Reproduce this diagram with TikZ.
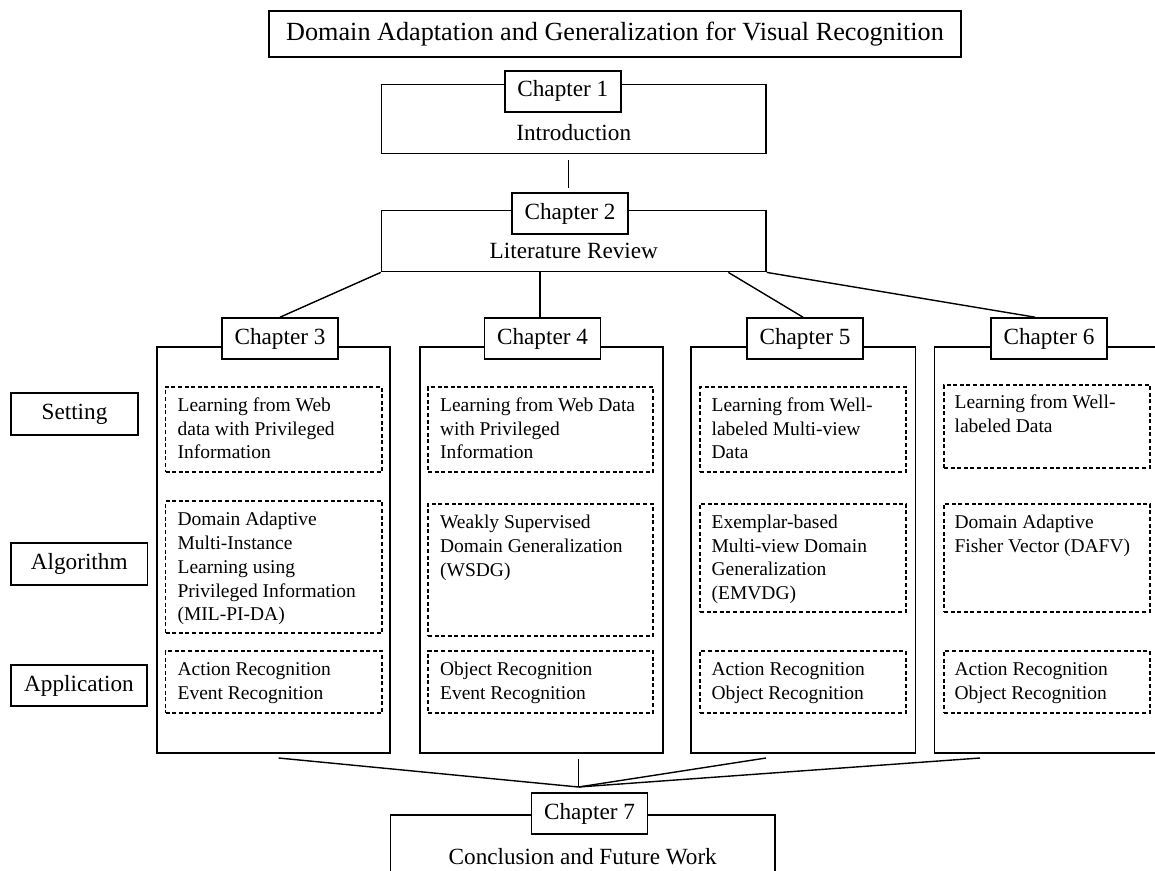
\documentclass[tikz,border=0pt]{standalone}
\usepackage{fontspec}
\setmainfont{Liberation Serif}
\usetikzlibrary{calc}
\newcommand\mytitle{\fontsize{26.2}{30}\selectfont}
\newcommand\mybig{\fontsize{23.2}{27}\selectfont}
\newcommand\mysmall{\fontsize{19.5}{23.7}\selectfont}
\begin{document}
\begin{tikzpicture}[x=1pt,y=-1pt,
  sbox/.style={draw, line width=1.4pt, fill=white, inner sep=0pt},
  lbox/.style={draw, line width=1.6pt, fill=white, inner sep=0pt, minimum width=116pt, minimum height=41pt, font=\mybig},
  dbox/.style={draw, line width=1.2pt, dash pattern=on 4pt off 2.6pt, inner sep=0pt},
  txt/.style={anchor=base west, inner sep=0pt},
  conn/.style={line width=1.4pt}
]
\useasboundingbox (0,0) rectangle (1155,870);
\clip (0,0) rectangle (1155,870);

% title
\node[sbox, minimum width=692pt, minimum height=46pt, font=\mytitle] (title) at (615,34) {Domain Adaptation and Generalization for Visual Recognition};

% chapter 1
\node[sbox, minimum width=384.5pt, minimum height=69pt] (ch1box) at (573.75,118.8) {};
\node[lbox] (ch1) at (562.8,91.2) {Chapter 1};
\node[inner sep=0pt, font=\mybig] (intro) at (573.75,133) {Introduction};

% chapter 2
\node[sbox, minimum width=384.5pt, minimum height=61pt] (ch2box) at (573.75,241.2) {};
\node[lbox] (ch2) at (570,213.5) {Chapter 2};
\node[inner sep=0pt, font=\mybig] (lit) at (573.8,250.7) {Literature Review};

\coordinate (c1a) at (568.6,160);
\coordinate (c1b) at (568.6,187.7);
\draw[conn] (c1a) -- (c1b);

% columns
\node[sbox, minimum width=233pt, minimum height=406pt] (col3) at (273.5,550) {};
\node[sbox, minimum width=243pt, minimum height=406pt] (col4) at (541.5,550) {};
\node[sbox, minimum width=224.5pt, minimum height=406pt] (col5) at (803.25,550) {};
\node[sbox, minimum width=240.5pt, minimum height=406pt] (col6) at (1054.75,550) {};

\node[lbox] (ch3) at (280,338.5) {Chapter 3};
\node[lbox] (ch4) at (542.5,338.5) {Chapter 4};
\node[lbox] (ch5) at (805,338.5) {Chapter 5};
\node[lbox] (ch6) at (1049,338.5) {Chapter 6};

% connectors from chapter 2
\draw[conn] (ch2box.south west) -- (ch3.north);
\draw[conn] ($(ch2box.south west)+(159.2,0)$) -- ($(ch2box.south west)+(159.2,46.3)$);
\draw[conn] ($(ch2box.south west)+(347.5,0)$) -- ([xshift=-2pt]ch5.north);
\draw[conn] (ch2box.south east) -- ([xshift=-14pt]ch6.north);

% row labels
\node[sbox, minimum width=127pt, minimum height=42pt, font=\mybig] (setting) at (74.5,414) {Setting};
\node[sbox, minimum width=136.5pt, minimum height=42pt, font=\mybig] (algorithm) at (79.25,564) {Algorithm};
\node[sbox, minimum width=136pt, minimum height=41pt, font=\mybig] (application) at (79,685.5) {Application};

% dashed boxes: chapter 3
\node[dbox, minimum width=216.5pt, minimum height=85pt] (d3s) at (273.75,429.5) {};
\node[dbox, minimum width=216.5pt, minimum height=132pt] (d3a) at (273.75,567) {};
\node[dbox, minimum width=216.5pt, minimum height=62pt] (d3p) at (273.75,682) {};
% chapter 4
\node[dbox, minimum width=225pt, minimum height=85pt] (d4s) at (540.5,429.5) {};
\node[dbox, minimum width=225pt, minimum height=132pt] (d4a) at (540.5,570) {};
\node[dbox, minimum width=225pt, minimum height=62pt] (d4p) at (540.5,682) {};
% chapter 5
\node[dbox, minimum width=206pt, minimum height=85pt] (d5s) at (803,429.5) {};
\node[dbox, minimum width=206pt, minimum height=108pt] (d5a) at (803,558) {};
\node[dbox, minimum width=206pt, minimum height=62pt] (d5p) at (803,682) {};
% chapter 6
\node[dbox, minimum width=206pt, minimum height=83pt] (d6s) at (1047,426.5) {};
\node[dbox, minimum width=206pt, minimum height=108pt] (d6a) at (1047,558) {};
\node[dbox, minimum width=206pt, minimum height=62pt] (d6p) at (1047,682) {};

% texts
\node[txt] (t3s) at ($(d3s.north west)+(12.5,25)$) {\parbox[t]{215pt}{\mysmall\raggedright Learning from Web\\data with Privileged\\Information}};
\node[txt] (t3a) at ($(d3a.north west)+(12.5,25.5)$) {\parbox[t]{215pt}{\mysmall\raggedright Domain Adaptive\\Multi-Instance\\Learning using\\Privileged Information\\(MIL-PI-DA)}};
\node[txt] (t3p) at ($(d3p.north west)+(12.5,25.5)$) {\parbox[t]{215pt}{\mysmall\raggedright Action Recognition\\Event Recognition}};

\node[txt] (t4s) at ($(d4s.north west)+(12.5,25)$) {\parbox[t]{215pt}{\mysmall\raggedright Learning from Web Data\\with Privileged\\Information}};
\node[txt] (t4a) at ($(d4a.north west)+(12.5,25.5)$) {\parbox[t]{215pt}{\mysmall\raggedright Weakly Supervised\\Domain Generalization\\(WSDG)}};
\node[txt] (t4p) at ($(d4p.north west)+(12.5,25.5)$) {\parbox[t]{215pt}{\mysmall\raggedright Object Recognition\\Event Recognition}};

\node[txt] (t5s) at ($(d5s.north west)+(12,25)$) {\parbox[t]{215pt}{\mysmall\raggedright Learning from Well-\\labeled Multi-view\\Data}};
\node[txt] (t5a) at ($(d5a.north west)+(12,25)$) {\parbox[t]{215pt}{\mysmall\raggedright Exemplar-based\\Multi-view Domain\\Generalization\\(EMVDG)}};
\node[txt] (t5p) at ($(d5p.north west)+(12,25.5)$) {\parbox[t]{215pt}{\mysmall\raggedright Action Recognition\\Object Recognition}};

\node[txt] (t6s) at ($(d6s.north west)+(11,24)$) {\parbox[t]{215pt}{\mysmall\raggedright Learning from Well-\\labeled Data}};
\node[txt] (t6a) at ($(d6a.north west)+(11,25)$) {\parbox[t]{215pt}{\mysmall\raggedright Domain Adaptive\\Fisher Vector (DAFV)}};
\node[txt] (t6p) at ($(d6p.north west)+(11,25.5)$) {\parbox[t]{215pt}{\mysmall\raggedright Action Recognition\\Object Recognition}};

% chapter 7
\node[sbox, minimum width=384.5pt, minimum height=75pt] (ch7box) at (582.75,852.5) {};
\node[lbox] (ch7) at (589.5,813.5) {Chapter 7};
\node[inner sep=0pt, font=\mybig] (concl) at (582.75,857) {Conclusion and Future Work};

% converging connectors
\coordinate (b3) at (278.6,758);
\coordinate (b4) at (578.5,759);
\coordinate (b5) at (766,758);
\coordinate (b6) at (980,758);
\coordinate (m) at (578.5,787);
\draw[conn] (b3) -- (m);
\draw[conn] (b4) -- (m);
\draw[conn] (b5) -- (m);
\draw[conn] (b6) -- (m);
\end{tikzpicture}
\end{document}
